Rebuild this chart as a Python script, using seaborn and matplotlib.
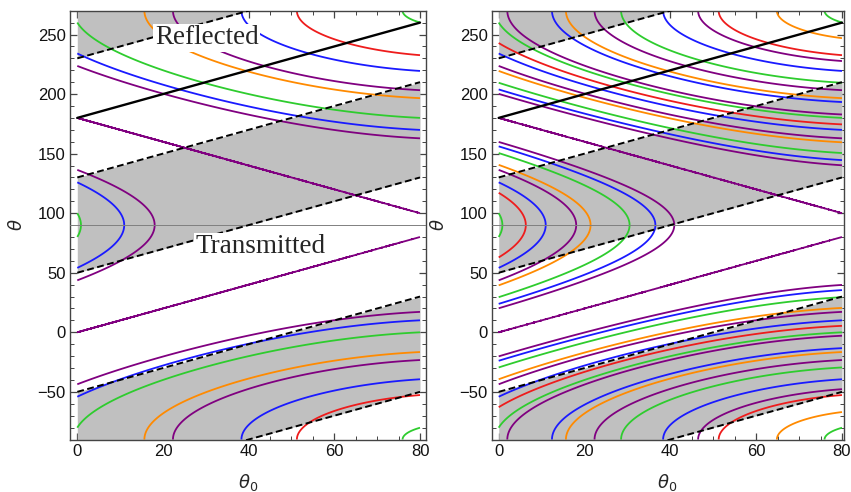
import numpy as np
import pandas as pd
import matplotlib
matplotlib.use("Agg")
import matplotlib.pyplot as plt
import seaborn as sns
from matplotlib.ticker import MultipleLocator

# ---------------- data ----------------
THETA0_LIMITS = [0, 80]          # plotted range of theta_0
THETA_LIMITS = [-90, 270]        # plotted range of theta
X_TICKS = [0, 20, 40, 60, 80]
Y_TICKS = [-50, 0, 50, 100, 150, 200, 250]

# shaded bands: theta - theta_0 between lower and upper offset
BAND_LOWER = [-130, 50, 230]
BAND_UPPER = [-50, 130, 310]
# dashed boundaries (theta = theta_0 + offset)
DASHED_OFFSETS = [-130, -50, 50, 130, 230]
# black line (theta = theta_0 + offset)
BLACK_OFFSETS = [180]
HORIZON = 90

# contour levels (value of sin(theta) - sin(theta_0)) read per colour
LEFT_PURPLE = [-1.38, -0.69, 0.0, 0.69]
LEFT_BLUE = [-1.62, -0.81, 0.81]
LEFT_GREEN = [-1.97, -0.985, 0.985]
LEFT_ORANGE = [-1.27]
LEFT_RED = [-1.78]

RIGHT_PURPLE = [-1.725, -1.38, -1.035, -0.69, -0.345, 0.0, 0.345, 0.69]
RIGHT_BLUE = [-1.62, -1.215, -0.81, -0.405, 0.405, 0.81]
RIGHT_GREEN = [-1.97, -1.4775, -0.985, -0.4925, 0.4925, 0.985]
RIGHT_ORANGE = [-1.905, -1.27, -0.635, 0.635]
RIGHT_RED = [-1.78, -0.89, 0.89]

# ---------------- styling ----------------
COLORS = {"red": "#ee1c1c", "orange": "#ff8a00", "green": "#2ecc2e",
          "blue": "#1a1aff", "purple": "#800080"}
GRAY = "#c0c0c0"
FRAME = "#444444"

sns.set_style("ticks")
plt.rcParams["font.family"] = ["Liberation Sans", "DejaVu Sans"]
plt.rcParams["mathtext.fontset"] = "dejavusans"
plt.rcParams["contour.negative_linestyle"] = "solid"

# grid for the contour relation
t0 = np.linspace(THETA0_LIMITS[0], THETA0_LIMITS[1], 1601)
th = np.linspace(THETA_LIMITS[0], THETA_LIMITS[1], 3601)
T0, TH = np.meshgrid(t0, th)
Z = np.sin(np.radians(TH)) - np.sin(np.radians(T0))

x_ends = np.array(THETA0_LIMITS, dtype=float)
dash_df = pd.DataFrame([(o, t, t + o) for o in DASHED_OFFSETS for t in THETA0_LIMITS],
                       columns=["offset", "theta0", "theta"])
black_df = pd.DataFrame([(o, t, t + o) for o in BLACK_OFFSETS for t in THETA0_LIMITS],
                        columns=["offset", "theta0", "theta"])


def draw_panel(ax, level_sets, xlim):
    for lo, hi in zip(BAND_LOWER, BAND_UPPER):
        ax.fill_between(x_ends, x_ends + lo, x_ends + hi, color=GRAY, lw=0, zorder=1)
    for cname, levels in level_sets:
        ax.contour(T0, TH, Z, levels=sorted(levels), colors=COLORS[cname],
                   linewidths=1.3, linestyles="solid", zorder=2)
    ax.axhline(HORIZON, color="#808080", lw=0.7, zorder=3)
    sns.lineplot(data=dash_df, x="theta0", y="theta", units="offset", estimator=None,
                 color="black", lw=1.4, linestyle=(0, (3.5, 1.8)), ax=ax,
                 legend=False, zorder=4)
    sns.lineplot(data=black_df, x="theta0", y="theta", units="offset", estimator=None,
                 color="black", lw=1.7, ax=ax, legend=False, zorder=4)
    ax.set_xlim(*xlim)
    ax.set_ylim(*THETA_LIMITS)
    ax.set_xticks(X_TICKS)
    ax.set_yticks(Y_TICKS)
    ax.xaxis.set_minor_locator(MultipleLocator(5))
    ax.yaxis.set_minor_locator(MultipleLocator(10))
    ax.tick_params(which="both", direction="in", top=True, right=True,
                   labeltop=False, labelright=False, colors=FRAME,
                   labelcolor="#111111", labelsize=12, pad=3)
    ax.tick_params(which="major", length=5, width=0.9)
    ax.tick_params(which="minor", length=3, width=0.7)
    for sp in ax.spines.values():
        sp.set_color(FRAME)
        sp.set_linewidth(1.0)
    ax.set_xlabel(r"$\theta_0$", fontsize=13)
    ax.set_ylabel(r"$\theta$", fontsize=13)
    ax.xaxis.set_label_coords(0.5, -0.075)
    ax.yaxis.set_label_coords(-0.125, 0.5)


fig = plt.figure(figsize=(8.51, 4.92), dpi=100)
W, H = 851.0, 492.0
ax1 = fig.add_axes([70 / W, 1 - 439.5 / H, 355.7 / W, 428.8 / H])
ax2 = fig.add_axes([491.7 / W, 1 - 439.5 / H, 351.8 / W, 428.8 / H])

draw_panel(ax1, [("red", LEFT_RED), ("orange", LEFT_ORANGE), ("green", LEFT_GREEN),
                 ("blue", LEFT_BLUE), ("purple", LEFT_PURPLE)], (-1.70, 81.33))
draw_panel(ax2, [("red", RIGHT_RED), ("orange", RIGHT_ORANGE), ("green", RIGHT_GREEN),
                 ("blue", RIGHT_BLUE), ("purple", RIGHT_PURPLE)], (-1.63, 80.35))

box = dict(facecolor="white", edgecolor="none", pad=1)
ax1.text(18.1, 241.8, "Reflected", fontsize=19.5, family=["Liberation Serif"],
         ha="left", va="baseline", bbox=box, zorder=6)
ax1.text(27.5, 66.3, "Transmitted", fontsize=19.5, family=["Liberation Serif"],
         ha="left", va="baseline", bbox=box, zorder=6)

fig.savefig("out.png", dpi=100)
